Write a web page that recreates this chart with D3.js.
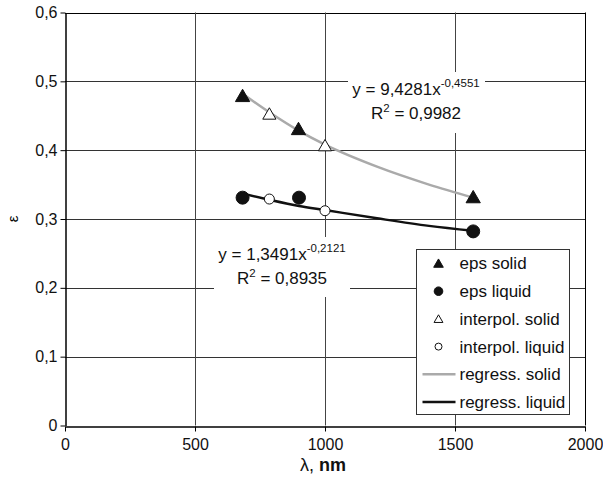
<!DOCTYPE html>
<html>
<head>
<meta charset="utf-8">
<script src="https://cdn.jsdelivr.net/npm/d3@7"></script>
<style>
  body { margin: 0; background: #fff; }
  text { font-family: "Liberation Sans", Arial, sans-serif; }
</style>
</head>
<body>
<div id="chart"></div>
<script>
// measured points (wavelength nm, emissivity)
const epsSolid = [[683, 0.478], [898, 0.430], [1570, 0.331]];
const epsLiquid = [[683, 0.331], [900, 0.331], [1570, 0.282]];
const interpSolid = [[786, 0.452], [1000, 0.406]];
const interpLiquid = [[786, 0.329], [1000, 0.312]];
// trend lines
const regressSolid = [[683, 0.482], [786, 0.455], [900, 0.428], [1000, 0.408], [1200, 0.376], [1400, 0.350], [1570, 0.331]];
const regressLiquid = [[683, 0.337], [786, 0.328], [900, 0.319], [1000, 0.313], [1200, 0.301], [1400, 0.290], [1570, 0.283]];
const xTicks = [0, 500, 1000, 1500, 2000];
const yTicks = [0, 0.1, 0.2, 0.3, 0.4, 0.5, 0.6];
const legendLabels = ["eps solid", "eps liquid", "interpol. solid", "interpol. liquid", "regress. solid", "regress. liquid"];

const width = 603, height = 482;
const margin = { top: 12.5, right: 18, bottom: 56.5, left: 65 };

const svg = d3.select("#chart").append("svg")
  .attr("width", width)
  .attr("height", height);

const x = d3.scaleLinear().domain([0, 2000]).range([margin.left, width - margin.right]);
const y = d3.scaleLinear().domain([0, 0.6]).range([height - margin.bottom, margin.top]);
const fmt = (d) => (d === 0 ? "0" : d3.format(".1f")(d).replace(".", ","));

// grid
const grid = svg.append("g");
grid.selectAll(".hg").data(yTicks.slice(1)).enter().append("line")
  .attr("x1", x(0)).attr("x2", x(2000))
  .attr("y1", (d) => Math.round(y(d)) + 0.5).attr("y2", (d) => Math.round(y(d)) + 0.5)
  .attr("stroke", (d) => (d === 0.6 ? "#000" : "#333")).attr("stroke-width", 1);
grid.selectAll(".vg").data(xTicks.slice(1)).enter().append("line")
  .attr("y1", y(0)).attr("y2", y(0.6))
  .attr("x1", (d) => Math.round(x(d)) + 0.5).attr("x2", (d) => Math.round(x(d)) + 0.5)
  .attr("stroke", (d) => (d === 2000 ? "#000" : "#444")).attr("stroke-width", 1);

// axes
const xAxis = svg.append("g")
  .attr("transform", `translate(0,${Math.round(y(0)) + 0.5})`)
  .call(d3.axisBottom(x).tickValues(xTicks).tickFormat(d3.format("d")).tickSize(5).tickSizeOuter(0));
const yAxis = svg.append("g")
  .attr("transform", `translate(${Math.round(x(0)) + 0.5},0)`)
  .call(d3.axisLeft(y).tickValues(yTicks).tickFormat(fmt).tickSize(5).tickSizeOuter(0));
[xAxis, yAxis].forEach((a) => {
  a.select(".domain").attr("stroke", "#000").attr("stroke-width", 1.5);
  a.selectAll("text").attr("fill", "#111").style("font-size", "16px")
    .style("font-family", "'Liberation Sans', Arial, sans-serif");
});
xAxis.selectAll("text").attr("dy", "0.95em");

svg.append("text")
  .attr("x", x(1000) - 2).attr("y", 471)
  .attr("text-anchor", "middle")
  .attr("fill", "#111")
  .style("font-size", "18px")
  .html('λ, <tspan font-weight="bold">nm</tspan>');

svg.append("text")
  .attr("transform", `translate(13,${y(0.3)}) rotate(-90)`)
  .attr("text-anchor", "middle")
  .attr("dy", "0.35em")
  .style("font-size", "15px")
  .text("ε");

// regression lines
const line = d3.line().x((d) => x(d[0])).y((d) => y(d[1])).curve(d3.curveMonotoneX);
svg.append("path").datum(regressSolid).attr("d", line)
  .attr("fill", "none").attr("stroke", "#aaa").attr("stroke-width", 2.5);
svg.append("path").datum(regressLiquid).attr("d", line)
  .attr("fill", "none").attr("stroke", "#111").attr("stroke-width", 2.5);

// markers
function triangles(data, filled) {
  svg.append("g").selectAll("path").data(data).enter().append("path")
    .attr("transform", (d) => `translate(${x(d[0])},${y(d[1]) + 1})`)
    .attr("d", d3.symbol().type(d3.symbolTriangle).size(filled ? 88 : 75))
    .attr("fill", filled ? "#111" : "#fff")
    .attr("stroke", "#111").attr("stroke-width", 1);
}
function circles(data, filled) {
  svg.append("g").selectAll("circle").data(data).enter().append("circle")
    .attr("cx", (d) => x(d[0])).attr("cy", (d) => y(d[1]))
    .attr("r", filled ? 6.5 : 5)
    .attr("fill", filled ? "#111" : "#fff")
    .attr("stroke", "#111").attr("stroke-width", 1);
}
triangles(interpSolid, false);
circles(interpLiquid, false);
triangles(epsSolid, true);
circles(epsLiquid, true);

// equation labels
function equation(bx, by, bw, bh, cx, coef, pow, r2) {
  svg.append("rect").attr("x", bx).attr("y", by).attr("width", bw).attr("height", bh).attr("fill", "#fff");
  const t1 = svg.append("text").attr("x", cx).attr("y", by + 23).attr("text-anchor", "middle")
    .style("font-size", "17px").attr("fill", "#111");
  t1.append("tspan").text(`y = ${coef}x`);
  t1.append("tspan").attr("dy", -8).style("font-size", "11.5px").text(pow);
  const t2 = svg.append("text").attr("x", cx).attr("y", by + 47).attr("text-anchor", "middle")
    .style("font-size", "17px").attr("fill", "#111");
  t2.append("tspan").text("R");
  t2.append("tspan").attr("dy", -7).style("font-size", "11.5px").text("2");
  t2.append("tspan").attr("dy", 7).text(` = ${r2}`);
}
equation(348, 72, 137, 61, 416, "9,4281", "-0,4551", "0,9982");
equation(214, 237, 136, 60, 282, "1,3491", "-0,2121", "0,8935");

// legend
const lg = svg.append("g").attr("transform", "translate(416.5,249.5)");
lg.append("rect").attr("width", 153).attr("height", 165)
  .attr("fill", "#fff").attr("stroke", "#333").attr("stroke-width", 1);
const rows = lg.selectAll("g").data(legendLabels).enter().append("g")
  .attr("transform", (d, i) => `translate(0,${14 + i * 27.7})`);
rows.append("text").attr("x", 43).attr("dy", "0.35em")
  .style("font-size", "17px").attr("fill", "#111").text((d) => d);
rows.each(function (d, i) {
  const g = d3.select(this);
  if (i === 0 || i === 2) {
    g.append("path").attr("transform", "translate(22,1)")
      .attr("d", d3.symbol().type(d3.symbolTriangle).size(i === 0 ? 40 : 34))
      .attr("fill", i === 0 ? "#111" : "#fff").attr("stroke", "#111").attr("stroke-width", 1);
  } else if (i === 1 || i === 3) {
    g.append("circle").attr("cx", 22).attr("r", i === 1 ? 4.3 : 3.5)
      .attr("fill", i === 1 ? "#111" : "#fff").attr("stroke", "#111").attr("stroke-width", 1);
  } else {
    g.append("line").attr("x1", 6).attr("x2", 39)
      .attr("stroke", i === 4 ? "#aaa" : "#111").attr("stroke-width", 2.5);
  }
});
</script>
</body>
</html>
